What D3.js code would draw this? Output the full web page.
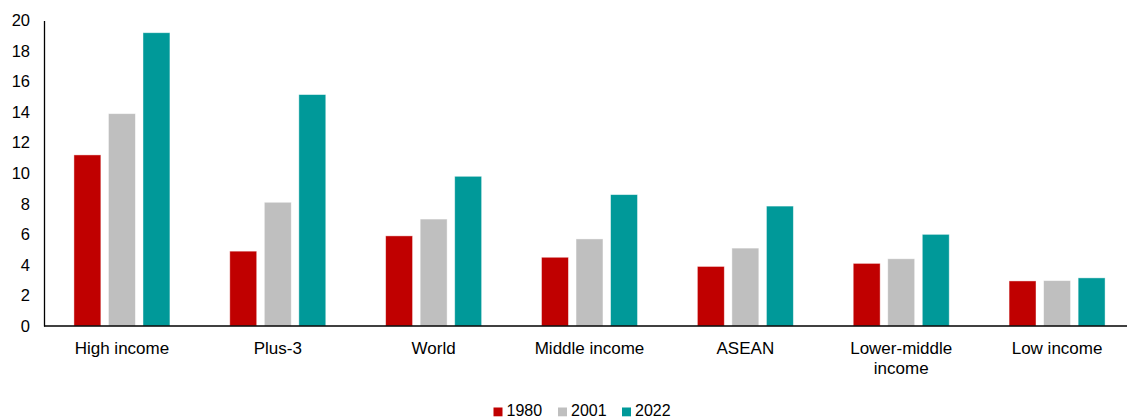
<!DOCTYPE html>
<html>
<head>
<meta charset="utf-8">
<script src="https://cdn.jsdelivr.net/npm/d3@7"></script>
<style>
  html, body { margin: 0; padding: 0; background: #fff; }
  svg { display: block; font-family: "Liberation Sans", Arial, sans-serif; }
</style>
</head>
<body>
<svg id="chart" width="1127" height="419"></svg>
<script>
// Categories and series values
const categories = ["High income", "Plus-3", "World", "Middle income", "ASEAN", "Lower-middle income", "Low income"];
const seriesNames = ["1980", "2001", "2022"];
const values1980 = [11.2, 4.9, 5.9, 4.5, 3.9, 4.1, 2.95];
const values2001 = [13.9, 8.1, 7.0, 5.7, 5.1, 4.4, 2.97];
const values2022 = [19.2, 15.15, 9.8, 8.6, 7.85, 6.0, 3.15];
const yTicks = [0, 2, 4, 6, 8, 10, 12, 14, 16, 18, 20];
const colors = ["#C00000", "#BFBFBF", "#009999"];

(function () {
  const seriesValues = [values1980, values2001, values2022];
  const rows = categories.map((c, i) => ({
    category: c,
    values: seriesNames.map((s, j) => ({ series: s, value: seriesValues[j][i] }))
  }));

  const svg = d3.select("#chart");
  const plotLeft = 44, plotBottom = 326, plotTop = 20.5;

  const y = d3.scaleLinear().domain([0, 20]).range([plotBottom, plotTop]);
  const x0 = d3.scaleBand().domain(categories).range([plotLeft, 1135]).padding(0);
  const x1 = d3.scaleBand().domain(seriesNames).range([-48, 48]).paddingInner(0.22).paddingOuter(0);
  const color = d3.scaleOrdinal().domain(seriesNames).range(colors);
  const center = c => x0(c) + x0.bandwidth() / 2;

  // Bars
  const groups = svg.append("g").selectAll("g")
    .data(rows).join("g")
    .attr("transform", d => `translate(${center(d.category)},0)`);

  groups.selectAll("rect")
    .data(d => d.values).join("rect")
    .attr("x", d => x1(d.series))
    .attr("width", x1.bandwidth())
    .attr("y", d => y(d.value))
    .attr("height", d => y(0) - y(d.value))
    .attr("fill", d => color(d.series))
    .attr("stroke", "#ffffff")
    .attr("stroke-opacity", 0.55)
    .attr("stroke-width", 0.8);

  // Y axis
  const yAxis = d3.axisLeft(y).tickValues(yTicks).tickSize(0).tickPadding(14);
  const yg = svg.append("g").attr("transform", `translate(${plotLeft},0)`).call(yAxis);
  yg.select(".domain").attr("stroke", "#000").attr("stroke-width", 1.3);
  yg.selectAll("text").attr("font-size", 16.5).attr("fill", "#000")
    .attr("font-family", "Liberation Sans, Arial, sans-serif");

  // X axis baseline
  svg.append("line")
    .attr("x1", plotLeft).attr("x2", 1127)
    .attr("y1", y(0)).attr("y2", y(0))
    .attr("stroke", "#000").attr("stroke-width", 1.3);

  // Category labels (long ones wrap to two lines)
  const labelLines = {
    "Lower-middle income": ["Lower-middle", "income"]
  };
  const labels = svg.append("g").selectAll("text")
    .data(categories).join("text")
    .attr("x", d => center(d))
    .attr("y", 353.5)
    .attr("text-anchor", "middle")
    .attr("font-size", 17)
    .attr("fill", "#000");
  labels.each(function (d) {
    const lines = labelLines[d] || [d];
    d3.select(this).selectAll("tspan").data(lines).join("tspan")
      .attr("x", center(d))
      .attr("dy", (l, i) => i === 0 ? 0 : 20)
      .text(l => l);
  });

  // Legend
  const legendX = [493.5, 558, 622];
  const legend = svg.append("g").selectAll("g")
    .data(seriesNames).join("g")
    .attr("transform", (d, i) => `translate(${legendX[i]},407.5)`);
  legend.append("rect")
    .attr("width", 9).attr("height", 8.8)
    .attr("fill", d => color(d));
  legend.append("text")
    .attr("x", 13).attr("y", 8.8)
    .attr("font-size", 16).attr("fill", "#000")
    .text(d => d);
})();
</script>
</body>
</html>
